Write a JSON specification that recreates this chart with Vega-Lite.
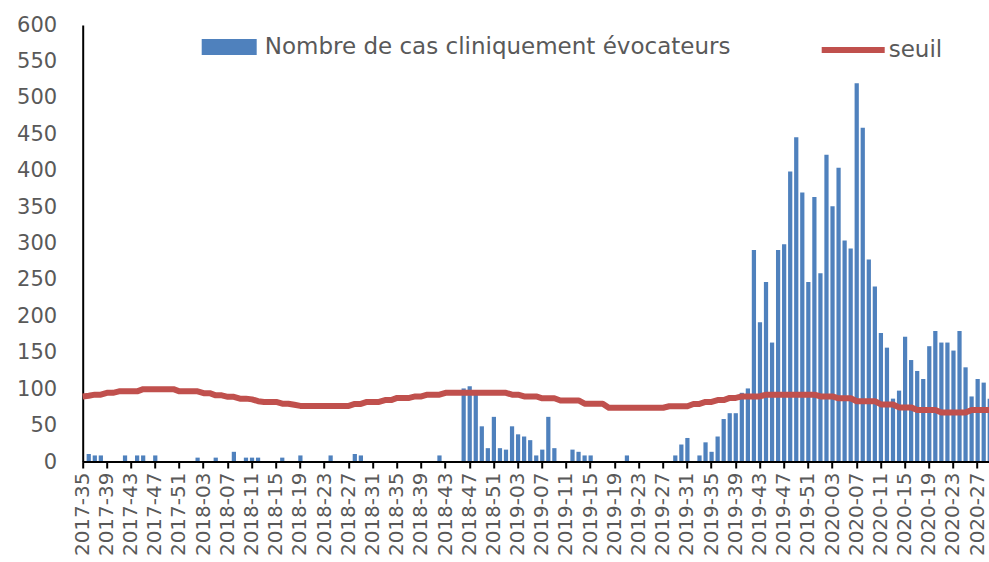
{
  "$schema": "https://vega.github.io/schema/vega-lite/v6.json",
  "width": 906.3,
  "height": 437,
  "autosize": {"type": "none"},
  "padding": {"left": 82.7, "top": 25, "right": 0, "bottom": 100},
  "background": "white",
  "config": {
    "view": {"stroke": null},
    "axis": {"labelFont": "DejaVu Sans", "labelColor": "#595959", "grid": false, "labelOverlap": false},
    "legend": {"labelFont": "DejaVu Sans", "labelColor": "#595959", "labelFontSize": 23, "padding": 0, "titlePadding": 0, "labelLimit": 0}
  },
  "data": {"values": [
    {"semaine":"2017-35","cas":0,"seuil":90},
    {"semaine":"2017-36","cas":11,"seuil":91},
    {"semaine":"2017-37","cas":9,"seuil":92.5},
    {"semaine":"2017-38","cas":9,"seuil":92.5},
    {"semaine":"2017-39","cas":0,"seuil":95},
    {"semaine":"2017-40","cas":0,"seuil":95},
    {"semaine":"2017-41","cas":0,"seuil":97},
    {"semaine":"2017-42","cas":9,"seuil":97},
    {"semaine":"2017-43","cas":0,"seuil":97},
    {"semaine":"2017-44","cas":9,"seuil":97},
    {"semaine":"2017-45","cas":9,"seuil":100},
    {"semaine":"2017-46","cas":0,"seuil":100},
    {"semaine":"2017-47","cas":9,"seuil":100},
    {"semaine":"2017-48","cas":0,"seuil":100},
    {"semaine":"2017-49","cas":0,"seuil":100},
    {"semaine":"2017-50","cas":0,"seuil":100},
    {"semaine":"2017-51","cas":0,"seuil":97},
    {"semaine":"2017-52","cas":0,"seuil":97},
    {"semaine":"2018-01","cas":0,"seuil":97},
    {"semaine":"2018-02","cas":6,"seuil":97},
    {"semaine":"2018-03","cas":0,"seuil":94.5},
    {"semaine":"2018-04","cas":0,"seuil":94.5},
    {"semaine":"2018-05","cas":6,"seuil":91.5},
    {"semaine":"2018-06","cas":0,"seuil":91.5},
    {"semaine":"2018-07","cas":0,"seuil":89.5},
    {"semaine":"2018-08","cas":14,"seuil":89.5},
    {"semaine":"2018-09","cas":0,"seuil":87},
    {"semaine":"2018-10","cas":6,"seuil":87},
    {"semaine":"2018-11","cas":6,"seuil":86},
    {"semaine":"2018-12","cas":6,"seuil":83.5},
    {"semaine":"2018-13","cas":0,"seuil":82.5},
    {"semaine":"2018-14","cas":0,"seuil":82.5},
    {"semaine":"2018-15","cas":0,"seuil":82.5},
    {"semaine":"2018-16","cas":6,"seuil":80},
    {"semaine":"2018-17","cas":0,"seuil":80},
    {"semaine":"2018-18","cas":0,"seuil":78.5},
    {"semaine":"2018-19","cas":9,"seuil":77},
    {"semaine":"2018-20","cas":0,"seuil":77},
    {"semaine":"2018-21","cas":0,"seuil":77},
    {"semaine":"2018-22","cas":0,"seuil":77},
    {"semaine":"2018-23","cas":0,"seuil":77},
    {"semaine":"2018-24","cas":9,"seuil":77},
    {"semaine":"2018-25","cas":0,"seuil":77},
    {"semaine":"2018-26","cas":0,"seuil":77},
    {"semaine":"2018-27","cas":0,"seuil":77},
    {"semaine":"2018-28","cas":11,"seuil":79.7},
    {"semaine":"2018-29","cas":9,"seuil":79.7},
    {"semaine":"2018-30","cas":0,"seuil":82.5},
    {"semaine":"2018-31","cas":0,"seuil":82.5},
    {"semaine":"2018-32","cas":0,"seuil":82.5},
    {"semaine":"2018-33","cas":0,"seuil":85},
    {"semaine":"2018-34","cas":0,"seuil":85},
    {"semaine":"2018-35","cas":0,"seuil":88},
    {"semaine":"2018-36","cas":0,"seuil":88},
    {"semaine":"2018-37","cas":0,"seuil":88},
    {"semaine":"2018-38","cas":0,"seuil":90},
    {"semaine":"2018-39","cas":0,"seuil":90},
    {"semaine":"2018-40","cas":0,"seuil":92.5},
    {"semaine":"2018-41","cas":0,"seuil":92.5},
    {"semaine":"2018-42","cas":9,"seuil":92.5},
    {"semaine":"2018-43","cas":0,"seuil":95},
    {"semaine":"2018-44","cas":0,"seuil":95},
    {"semaine":"2018-45","cas":0,"seuil":95},
    {"semaine":"2018-46","cas":101,"seuil":95},
    {"semaine":"2018-47","cas":104,"seuil":95},
    {"semaine":"2018-48","cas":96,"seuil":95},
    {"semaine":"2018-49","cas":49,"seuil":95},
    {"semaine":"2018-50","cas":19,"seuil":95},
    {"semaine":"2018-51","cas":62,"seuil":95},
    {"semaine":"2018-52","cas":19,"seuil":95},
    {"semaine":"2019-01","cas":17,"seuil":95},
    {"semaine":"2019-02","cas":49,"seuil":92.5},
    {"semaine":"2019-03","cas":38,"seuil":92.5},
    {"semaine":"2019-04","cas":35,"seuil":90},
    {"semaine":"2019-05","cas":30,"seuil":90},
    {"semaine":"2019-06","cas":9,"seuil":90},
    {"semaine":"2019-07","cas":17,"seuil":87.5},
    {"semaine":"2019-08","cas":62,"seuil":87.5},
    {"semaine":"2019-09","cas":19,"seuil":87.5},
    {"semaine":"2019-10","cas":0,"seuil":84.5},
    {"semaine":"2019-11","cas":0,"seuil":84.5},
    {"semaine":"2019-12","cas":17,"seuil":84.5},
    {"semaine":"2019-13","cas":14,"seuil":84.5},
    {"semaine":"2019-14","cas":9,"seuil":80},
    {"semaine":"2019-15","cas":9,"seuil":80},
    {"semaine":"2019-16","cas":0,"seuil":80},
    {"semaine":"2019-17","cas":0,"seuil":80},
    {"semaine":"2019-18","cas":0,"seuil":74.5},
    {"semaine":"2019-19","cas":0,"seuil":74.5},
    {"semaine":"2019-20","cas":0,"seuil":74.5},
    {"semaine":"2019-21","cas":9,"seuil":74.5},
    {"semaine":"2019-22","cas":0,"seuil":74.5},
    {"semaine":"2019-23","cas":0,"seuil":74.5},
    {"semaine":"2019-24","cas":0,"seuil":74.5},
    {"semaine":"2019-25","cas":0,"seuil":74.5},
    {"semaine":"2019-26","cas":0,"seuil":74.5},
    {"semaine":"2019-27","cas":0,"seuil":74.5},
    {"semaine":"2019-28","cas":0,"seuil":76.5},
    {"semaine":"2019-29","cas":9,"seuil":76.5},
    {"semaine":"2019-30","cas":24,"seuil":76.5},
    {"semaine":"2019-31","cas":33,"seuil":76.5},
    {"semaine":"2019-32","cas":0,"seuil":79.7},
    {"semaine":"2019-33","cas":9,"seuil":79.7},
    {"semaine":"2019-34","cas":27,"seuil":82.5},
    {"semaine":"2019-35","cas":14,"seuil":82.5},
    {"semaine":"2019-36","cas":35,"seuil":85},
    {"semaine":"2019-37","cas":59,"seuil":85},
    {"semaine":"2019-38","cas":67,"seuil":88},
    {"semaine":"2019-39","cas":67,"seuil":88},
    {"semaine":"2019-40","cas":95,"seuil":90},
    {"semaine":"2019-41","cas":101,"seuil":90},
    {"semaine":"2019-42","cas":291,"seuil":90},
    {"semaine":"2019-43","cas":192,"seuil":90},
    {"semaine":"2019-44","cas":247,"seuil":92.5},
    {"semaine":"2019-45","cas":164,"seuil":92.5},
    {"semaine":"2019-46","cas":291,"seuil":92.5},
    {"semaine":"2019-47","cas":299,"seuil":92.5},
    {"semaine":"2019-48","cas":399,"seuil":92.5},
    {"semaine":"2019-49","cas":446,"seuil":92.5},
    {"semaine":"2019-50","cas":370,"seuil":92.5},
    {"semaine":"2019-51","cas":247,"seuil":92.5},
    {"semaine":"2019-52","cas":364,"seuil":92.5},
    {"semaine":"2020-01","cas":259,"seuil":90},
    {"semaine":"2020-02","cas":422,"seuil":90},
    {"semaine":"2020-03","cas":351,"seuil":90},
    {"semaine":"2020-04","cas":404,"seuil":87.5},
    {"semaine":"2020-05","cas":304,"seuil":87.5},
    {"semaine":"2020-06","cas":293,"seuil":87.5},
    {"semaine":"2020-07","cas":520,"seuil":83.5},
    {"semaine":"2020-08","cas":459,"seuil":83.5},
    {"semaine":"2020-09","cas":278,"seuil":83.5},
    {"semaine":"2020-10","cas":241,"seuil":83.5},
    {"semaine":"2020-11","cas":177,"seuil":79},
    {"semaine":"2020-12","cas":157,"seuil":79},
    {"semaine":"2020-13","cas":87,"seuil":79},
    {"semaine":"2020-14","cas":98,"seuil":75},
    {"semaine":"2020-15","cas":172,"seuil":75},
    {"semaine":"2020-16","cas":140,"seuil":75},
    {"semaine":"2020-17","cas":125,"seuil":71.5},
    {"semaine":"2020-18","cas":114,"seuil":71.5},
    {"semaine":"2020-19","cas":159,"seuil":71.5},
    {"semaine":"2020-20","cas":180,"seuil":71.5},
    {"semaine":"2020-21","cas":164,"seuil":68},
    {"semaine":"2020-22","cas":164,"seuil":68},
    {"semaine":"2020-23","cas":153,"seuil":68},
    {"semaine":"2020-24","cas":180,"seuil":68},
    {"semaine":"2020-25","cas":130,"seuil":68},
    {"semaine":"2020-26","cas":90,"seuil":71.5},
    {"semaine":"2020-27","cas":114,"seuil":71.5},
    {"semaine":"2020-28","cas":109,"seuil":71.5},
    {"semaine":"2020-29","cas":87,"seuil":71.5}
  ]},
  "layer": [
    {
      "mark": {"type": "bar"},
      "encoding": {
        "x": {
          "field": "semaine", "type": "ordinal", "sort": null,
          "scale": {"range": [-3.02, 910.07], "paddingInner": 0.3, "paddingOuter": 0.15},
          "axis": {
            "title": null,
            "values": ["2017-35","2017-39","2017-43","2017-47","2017-51","2018-03","2018-07","2018-11","2018-15","2018-19","2018-23","2018-27","2018-31","2018-35","2018-39","2018-43","2018-47","2018-51","2019-03","2019-07","2019-11","2019-15","2019-19","2019-23","2019-27","2019-31","2019-35","2019-39","2019-43","2019-47","2019-51","2020-03","2020-07","2020-11","2020-15","2020-19","2020-23","2020-27"],
            "labelAngle": 270, "labelFontSize": 20, "labelPadding": 4, "labelOverlap": false,
            "domain": false, "ticks": true, "tickSize": 6, "tickWidth": 2, "tickColor": "black"
          }
        },
        "y": {
          "field": "cas", "type": "quantitative",
          "scale": {"domain": [0, 600], "nice": false},
          "axis": {
            "title": null, "values": [0,50,100,150,200,250,300,350,400,450,500,550,600],
            "tickCount": 13, "labelOverlap": false, "labelBound": false,
            "ticks": false, "labelPadding": 26, "labelFontSize": 21,
            "domainColor": "black", "domainWidth": 2
          }
        },
        "color": {
          "datum": "Nombre de cas cliniquement évocateurs",
          "scale": {"range": ["#4F81BD"]},
          "legend": {
            "orient": "none", "legendX": 119, "legendY": -5.5, "title": null,
            "symbolType": "M-1,-0.29H1V0.29H-1Z", "symbolSize": 3025, "symbolStrokeWidth": 0,
            "labelOffset": 8
          }
        }
      }
    },
    {
      "mark": {"type": "line", "strokeWidth": 6, "strokeJoin": "round"},
      "encoding": {
        "x": {"field": "semaine", "type": "ordinal", "sort": null},
        "y": {"field": "seuil", "type": "quantitative"},
        "stroke": {
          "datum": "seuil",
          "scale": {"range": ["#C0504D"]},
          "legend": {
            "orient": "none", "legendX": 736, "legendY": -9.5, "title": null,
            "symbolType": "stroke", "symbolSize": 3969, "symbolStrokeWidth": 6,
            "labelOffset": 1
          }
        }
      }
    },
    {
      "data": {"values": [{"zero": 0}]},
      "mark": {"type": "rule", "color": "black", "strokeWidth": 2},
      "encoding": {"y": {"field": "zero", "type": "quantitative"}}
    }
  ]
}
